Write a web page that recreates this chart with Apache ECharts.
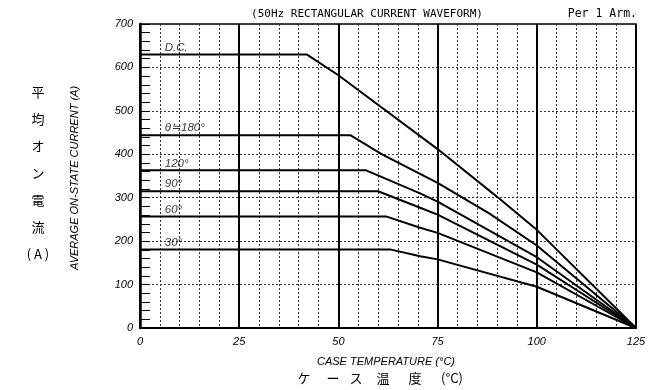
<!DOCTYPE html>
<html><head><meta charset="utf-8">
<script src="https://cdn.jsdelivr.net/npm/echarts@6/dist/echarts.min.js"></script>
<style>html,body{margin:0;padding:0;background:#fff}#c{width:650px;height:390px}</style>
</head><body><div id="c"></div>
<script>
// Data: [case temperature °C, average on-state current A]
const curveDC   = [[0,630],[42,630],[50,582],[75,412],[90,302],[100,226],[125,0]];
const curve180  = [[0,444],[53,444],[61,400],[75,334],[88,264],[100,190],[125,0]];
const curve120  = [[0,363],[57,363],[70.6,310],[75,291],[100,163],[125,0]];
const curve90   = [[0,315],[60,315],[70.6,277],[75,261],[100,146],[125,0]];
const curve60   = [[0,257],[62,257],[70.6,231],[75,219],[100,128],[125,0]];
const curve30   = [[0,181],[63,181],[70.6,165],[75,158],[100,95],[125,0]];
const curves = [curveDC, curve180, curve120, curve90, curve60, curve30];
const curveNames = ['D.C.', 'θ≒180°', '120°', '90°', '60°', '30°'];
const xTicks = [0, 25, 50, 75, 100, 125];
const yTicks = [0, 100, 200, 300, 400, 500, 600, 700];
const titleText = '(50Hz RECTANGULAR CURRENT WAVEFORM)';
const noteText = 'Per 1 Arm.';
const yNameEn = 'AVERAGE ON-STATE CURRENT (A)';
const xNameEn = 'CASE TEMPERATURE (°C)';
const yNameJa = ['平', '均', 'オ', 'ン', '電', '流', '( A )'];
const xNameJa = ['ケ', 'ー', 'ス', '温', '度', '(°C)'];

const chart = echarts.init(document.getElementById('c'), null, {renderer: 'canvas'});
const italicLbl = {color: '#000', fontStyle: 'italic', fontFamily: 'Liberation Sans', fontSize: 11};

const series = curves.map((d, i) => ({
  type: 'line', data: d, symbol: 'none', silent: true,
  lineStyle: {color: '#000', width: 2}, z: 5
}));
series.push({
  type: 'scatter', symbolSize: 0, silent: true, z: 6,
  data: curves.map((d, i) => ({value: [6, d[0][1]], name: curveNames[i]})),
  label: {show: true, position: 'right', distance: 0, offset: [1, -7], formatter: p => p.name,
    color: '#000', fontStyle: 'italic', fontFamily: 'Liberation Sans', fontSize: 11.5}
});

const graphic = [
  {type: 'text', x: 367, y: 14, style: {text: titleText, font: '11px "DejaVu Sans Mono"', fill: '#000', textAlign: 'center', textVerticalAlign: 'middle'}},
  {type: 'text', x: 637, y: 14, style: {text: noteText, font: '11.5px "DejaVu Sans Mono"', fill: '#000', textAlign: 'right', textVerticalAlign: 'middle'}},
  {type: 'text', x: 75, y: 178, rotation: Math.PI / 2, style: {text: yNameEn, font: 'italic 11px "Liberation Sans Narrow", "Liberation Sans"', fill: '#000', textAlign: 'center', textVerticalAlign: 'middle'}},
  {type: 'text', x: 386, y: 362, style: {text: xNameEn, font: 'italic 11px "Liberation Sans Narrow", "Liberation Sans"', fill: '#000', textAlign: 'center', textVerticalAlign: 'middle'}}
];
const yJaPos = [92, 119, 146, 173, 200, 227, 254];
yNameJa.forEach((t, i) => graphic.push({type: 'text', x: 38, y: yJaPos[i],
  style: {text: t, font: '13px "Noto Sans CJK JP"', fill: '#000', textAlign: 'center', textVerticalAlign: 'middle'}}));
const xJaPos = [304, 333, 356, 383, 415, 452];
xNameJa.forEach((t, i) => graphic.push({type: 'text', x: xJaPos[i], y: 378,
  style: {text: t, font: '13px "Noto Sans CJK JP"', fill: '#000', textAlign: 'center', textVerticalAlign: 'middle'}}));

chart.setOption({
  animation: false,
  backgroundColor: '#fff',
  grid: {left: 140, right: 14, top: 24, bottom: 62, show: true, borderColor: '#000', borderWidth: 1.5, backgroundColor: 'transparent'},
  xAxis: {
    type: 'value', min: xTicks[0], max: xTicks[xTicks.length - 1], interval: 25,
    axisLine: {show: true, lineStyle: {color: '#000', width: 2}},
    axisTick: {show: false},
    axisLabel: Object.assign({margin: 8}, italicLbl, {formatter: v => xTicks.includes(v) ? String(v) : ''}),
    splitLine: {show: true, lineStyle: {color: '#000', width: 2}},
    minorTick: {show: false, splitNumber: 5},
    minorSplitLine: {show: true, lineStyle: {color: '#333', width: 1, type: [2, 2]}}
  },
  yAxis: {
    type: 'value', min: yTicks[0], max: yTicks[yTicks.length - 1], interval: 100,
    axisLine: {show: true, lineStyle: {color: '#000', width: 2.5}},
    axisTick: {show: true, inside: true, length: 10, lineStyle: {color: '#000', width: 1}},
    minorTick: {show: true, splitNumber: 5, length: 10, lineStyle: {color: '#000', width: 1}},
    axisLabel: Object.assign({margin: 7}, italicLbl, {formatter: v => yTicks.includes(v) ? String(v) : ''}),
    splitLine: {show: true, lineStyle: {color: '#333', width: 1, type: [2, 2]}}
  },
  series: series,
  graphic: graphic
});
</script></body></html>
